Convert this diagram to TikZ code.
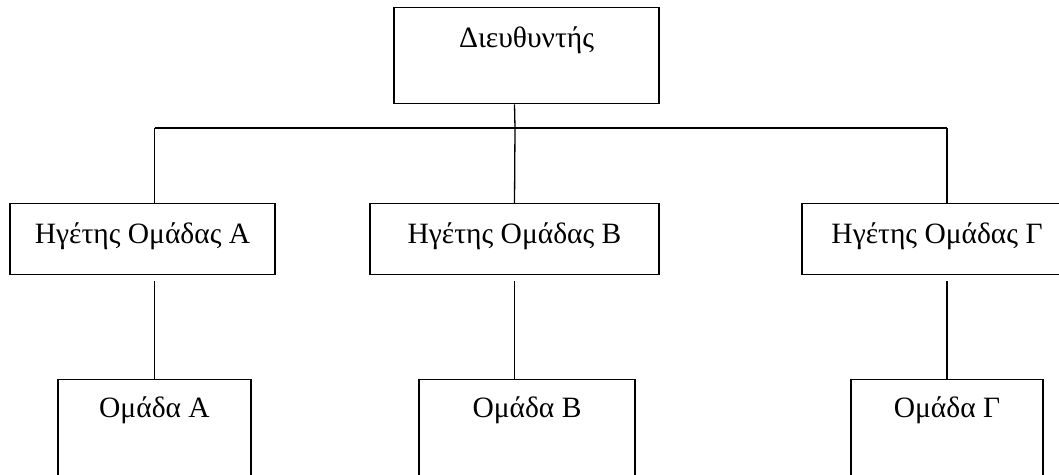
\documentclass[tikz,border=0pt]{standalone}
\usepackage{fontspec}
\setmainfont{Liberation Serif}
\begin{document}
\begin{tikzpicture}[x=1pt,y=-1pt,
  every node/.style={font=\fontsize{29.5}{35}\selectfont},
  box/.style={draw, line width=1.3pt, rectangle, inner sep=0pt, anchor=north},
  link/.style={draw, line width=1.3pt}]
\useasboundingbox (0,0) rectangle (1059,474);
\clip (0,0) rectangle (1059,474);

% director
\node[box, minimum width=265pt, text height=40pt, text depth=56pt] (dir) at (526.5,7) {Διευθυντής};

% team leaders
\tikzset{leader/.style={box, text height=40pt, text depth=31pt}}
\node[leader, minimum width=265pt] (LA) at (142.5,203) {Ηγέτης Ομάδας Α};
\node[leader, minimum width=289pt] (LB) at (514.5,203) {Ηγέτης Ομάδας Β};
\node[leader, minimum width=270pt] (LG) at (937,203) {Ηγέτης Ομάδας Γ};

% teams
\tikzset{team/.style={box, text height=38pt, text depth=75pt}}
\node[team, minimum width=193pt] (TA) at (154.5,379) {Ομάδα Α};
\node[team, minimum width=216pt] (TB) at (527,379) {Ομάδα Β};
\node[team, minimum width=192pt] (TG) at (947,379) {Ομάδα Γ};

% connectors
\coordinate (bus) at (515,128);
\draw[link] (LB.north |- dir.south) -- (bus);
\draw[link] (TA.north |- bus) -- (TG.north |- bus);
\draw[link] (TA.north |- bus) -- (TA.north |- LA.north);
\draw[link] (bus) -- (LB.north);
\draw[link] (TG.north |- bus) -- (TG.north |- LG.north);
\draw[link] ([yshift=-6pt]TA.north |- LA.south) -- (TA.north);
\draw[link] ([yshift=-6pt]LB.south) -- (LB.south |- TB.north);
\draw[link] ([yshift=-6pt]TG.north |- LG.south) -- (TG.north);
\end{tikzpicture}
\end{document}
